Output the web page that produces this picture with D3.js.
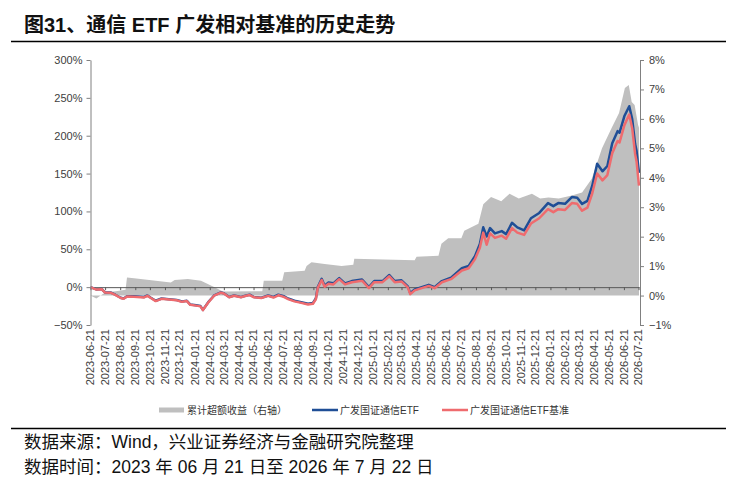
<!DOCTYPE html>
<html>
<head>
<meta charset="utf-8">
<script src="https://cdn.jsdelivr.net/npm/d3@7/dist/d3.min.js"></script>
<style>
    body { margin: 0; background: #fff; }
    svg { display: block; }
    text { font-family: "Liberation Sans", "Noto Sans CJK SC", sans-serif; }
</style>
</head>
<body>
<svg id="chart"></svg>
<script>
// ETF and benchmark cumulative returns (%), left axis
const lineDates = [
    "2023-06-21", "2023-07-03", "2023-07-14", "2023-07-21", "2023-08-01", "2023-08-11", "2023-08-22", "2023-08-28",
    "2023-09-04", "2023-09-18", "2023-10-09", "2023-10-16", "2023-10-23", "2023-11-02", "2023-11-14", "2023-11-29",
    "2023-12-15", "2023-12-26", "2024-01-05", "2024-01-12", "2024-01-24", "2024-02-02", "2024-02-07", "2024-02-19",
    "2024-03-01", "2024-03-15", "2024-03-21", "2024-04-01", "2024-04-11", "2024-04-25", "2024-05-06", "2024-05-13",
    "2024-05-22", "2024-06-06", "2024-06-20", "2024-07-01", "2024-07-11", "2024-07-22", "2024-07-31", "2024-08-13",
    "2024-08-27", "2024-09-10", "2024-09-20", "2024-09-26", "2024-09-30", "2024-10-08", "2024-10-14", "2024-10-22",
    "2024-11-01", "2024-11-13", "2024-11-25", "2024-12-09", "2024-12-30", "2025-01-13", "2025-01-24", "2025-02-10",
    "2025-02-24", "2025-03-07", "2025-03-21", "2025-04-03", "2025-04-08", "2025-04-17", "2025-05-16", "2025-05-28",
    "2025-06-12", "2025-07-02", "2025-07-23", "2025-08-06", "2025-08-19", "2025-08-29", "2025-09-05", "2025-09-12",
    "2025-09-19", "2025-09-29", "2025-10-13", "2025-10-22", "2025-11-03", "2025-11-14", "2025-11-28", "2025-12-12",
    "2025-12-29", "2026-01-16", "2026-01-27", "2026-02-06", "2026-02-20", "2026-03-06", "2026-03-17", "2026-03-27",
    "2026-04-07", "2026-04-17", "2026-04-27", "2026-05-08", "2026-05-18", "2026-05-28", "2026-06-08", "2026-06-12",
    "2026-06-22", "2026-07-02", "2026-07-08", "2026-07-14", "2026-07-17", "2026-07-22"
];
const etfValues = [
    0, -3, -2.5, -7, -7, -10, -14, -15,
    -12, -12, -13, -11, -14, -18, -15, -16,
    -17, -19, -18, -23, -24, -25, -30, -19,
    -11, -7, -8, -13, -11, -13, -11, -10,
    -13, -14, -11, -13, -10, -12, -15, -18,
    -20, -22, -21, -15, 0, 11, 2, 6,
    5, 12, 5, 8, 10, 0, 8, 8,
    16, 8, 9, 1, -8, -3, 3, 0,
    8, 13, 25, 28, 41, 57, 79, 67,
    78, 71, 74, 70, 85, 79, 75, 91,
    98, 111, 107, 111, 110, 119, 118, 110,
    114, 134, 163, 153, 160, 190, 206, 204,
    226, 239, 222, 189, 180, 151
];
const benchValues = [
    0, -3.2, -2.8, -7.2, -7.3, -10.3, -14.3, -15.3,
    -12.5, -12.6, -13.6, -11.5, -14.4, -18.4, -15.4, -16.4,
    -17.4, -19.4, -18.4, -23.4, -24.4, -25.4, -30.3, -19.4,
    -11.3, -7.3, -8.3, -13.4, -11.4, -13.4, -11.4, -10.4,
    -13.4, -14.4, -11.6, -13.7, -10.8, -12.8, -15.8, -18.8,
    -20.8, -22.9, -22, -16, -1, 9.5, 0.5, 4.6,
    3.6, 10.5, 3.6, 6.5, 8.5, -1.3, 6.6, 6.6,
    14.4, 6.6, 7.6, -0.4, -9.2, -4.3, 1.6, -1.4,
    6.5, 11, 22, 25, 37, 52, 72, 56,
    71, 65, 68, 64, 78, 72, 69, 84,
    91, 103, 99, 103, 102, 111, 110, 101,
    105, 124, 150, 141, 148, 177, 193, 191,
    214, 228, 210, 176, 166, 134
];

// Cumulative excess return (%), right axis
const excessDates = [
    "2023-06-21", "2023-07-03", "2023-07-21", "2023-08-12", "2023-09-01", "2023-09-04", "2023-09-23", "2023-11-02",
    "2023-12-03", "2023-12-11", "2024-01-07", "2024-02-03", "2024-02-17", "2024-03-03", "2024-03-19", "2024-06-08",
    "2024-06-11", "2024-07-19", "2024-07-23", "2024-09-03", "2024-09-07", "2024-09-17", "2024-10-14", "2024-11-18",
    "2024-12-12", "2024-12-14", "2025-04-17", "2025-04-21", "2025-06-05", "2025-06-11", "2025-06-25", "2025-07-22",
    "2025-07-28", "2025-08-26", "2025-09-05", "2025-09-21", "2025-10-12", "2025-10-29", "2025-11-17", "2025-12-14",
    "2025-12-31", "2026-01-17", "2026-02-07", "2026-03-06", "2026-03-27", "2026-04-16", "2026-05-07", "2026-05-27",
    "2026-06-11", "2026-06-23", "2026-07-01", "2026-07-07", "2026-07-13", "2026-07-20", "2026-07-22"
];
const excessValues = [
    0, -0.1, 0.1, 0.15, 0.2, 0.61, 0.58, 0.5,
    0.44, 0.53, 0.56, 0.5, 0.39, 0.27, 0.14, 0.15,
    0.5, 0.5, 0.79, 0.84, 1.0, 1.13, 1.07, 1.0,
    1.05, 1.25, 1.2, 1.32, 1.35, 1.76, 1.95, 1.95,
    2.2, 2.44, 3.1, 3.35, 3.2, 3.46, 3.3, 3.46,
    3.3, 3.33, 3.3, 3.4, 3.5, 3.97, 5.0, 5.7,
    6.2, 7.05, 7.15, 6.57, 6.47, 5.8, 5.7
];

const leftTicks = [-50, 0, 50, 100, 150, 200, 250, 300];
const rightTicks = [-1, 0, 1, 2, 3, 4, 5, 6, 7, 8];
const xTickLabels = [
    "2023-06-21", "2023-07-21", "2023-08-21", "2023-09-21", "2023-10-21", "2023-11-21", "2023-12-21",
    "2024-01-21", "2024-02-21", "2024-03-21", "2024-04-21", "2024-05-21", "2024-06-21", "2024-07-21",
    "2024-08-21", "2024-09-21", "2024-10-21", "2024-11-21", "2024-12-21", "2025-01-21", "2025-02-21",
    "2025-03-21", "2025-04-21", "2025-05-21", "2025-06-21", "2025-07-21", "2025-08-21", "2025-09-21",
    "2025-10-21", "2025-11-21", "2025-12-21", "2026-01-21", "2026-02-21", "2026-03-21", "2026-04-21",
    "2026-05-21", "2026-06-21", "2026-07-21"
];
const legendLabels = ["累计超额收益（右轴）", "广发国证通信ETF", "广发国证通信ETF基准"];

// Chart dimensions
const svgWidth = 737;
const svgHeight = 485;
const plot = { left: 90.5, right: 640, top: 60, bottom: 325 };

const colors = { excess: "#bfbfbf", etf: "#1f4e96", bench: "#ef6b6e", axis: "#808080", text: "#404040" };

const parse = d3.timeParse("%Y-%m-%d");

const svg = d3.select("#chart")
    .attr("width", svgWidth)
    .attr("height", svgHeight);

// Scales
const x = d3.scaleTime()
    .domain([parse("2023-06-21"), parse("2026-07-22")])
    .range([plot.left, plot.right - 1]);

const yLeft = d3.scaleLinear()
    .domain([-50, 300])
    .range([plot.bottom, plot.top]);

const yRight = d3.scaleLinear()
    .domain([-1, 8])
    .range([plot.bottom, plot.top]);

// Title
svg.append("text")
    .attr("x", 24)
    .attr("y", 32)
    .attr("font-size", 20)
    .attr("font-weight", "bold")
    .attr("fill", "#111")
    .text("图31、通信 ETF 广发相对基准的历史走势");

svg.append("line")
    .attr("x1", 11).attr("x2", 726)
    .attr("y1", 41.5).attr("y2", 41.5)
    .attr("stroke", "#000")
    .attr("stroke-width", 1.3);

// Excess return area (right axis)
const excessData = excessDates.map((d, i) => ({ date: parse(d), value: excessValues[i] }));
const area = d3.area()
    .x(d => x(d.date))
    .y0(yRight(0))
    .y1(d => yRight(d.value));

svg.append("path")
    .datum(excessData)
    .attr("fill", colors.excess)
    .attr("d", area);

// X axis along the 0% line of the left axis
svg.append("g")
    .attr("class", "axis x-axis")
    .attr("transform", `translate(0,${yLeft(0)})`)
    .call(d3.axisBottom(x)
        .tickValues(xTickLabels.map(parse))
        .tickSize(3)
        .tickSizeOuter(0)
        .tickFormat(""))
    .call(g => g.select(".domain").attr("stroke", "#595959"))
    .call(g => g.selectAll(".tick line").attr("stroke", "#595959"));

// Rotated date labels under the plot
svg.append("g")
    .attr("class", "x-labels")
    .selectAll("text")
    .data(xTickLabels)
    .join("text")
    .attr("transform", d => `translate(${x(parse(d))},329) rotate(-90)`)
    .attr("dy", "0.35em")
    .attr("text-anchor", "end")
    .attr("font-size", 11)
    .attr("fill", colors.text)
    .text(d => d);

// Lines
const lineData = lineDates.map((d, i) => ({ date: parse(d), etf: etfValues[i], bench: benchValues[i] }));

svg.append("path")
    .datum(lineData)
    .attr("fill", "none")
    .attr("stroke", colors.etf)
    .attr("stroke-width", 2.5)
    .attr("stroke-linejoin", "round")
    .attr("d", d3.line().x(d => x(d.date)).y(d => yLeft(d.etf)));

svg.append("path")
    .datum(lineData)
    .attr("fill", "none")
    .attr("stroke", colors.bench)
    .attr("stroke-width", 2.5)
    .attr("stroke-linejoin", "round")
    .attr("d", d3.line().x(d => x(d.date)).y(d => yLeft(d.bench)));

// Percentage formatter with a true minus sign
const pct = d => (d < 0 ? "\u2212" : "") + Math.abs(d) + "%";

// Left axis
svg.append("g")
    .attr("class", "axis y-left")
    .attr("transform", `translate(${plot.left},0)`)
    .call(d3.axisLeft(yLeft)
        .tickValues(leftTicks)
        .tickSize(4)
        .tickSizeOuter(0)
        .tickFormat(pct))
    .call(g => g.select(".domain").attr("stroke", colors.axis))
    .call(g => g.selectAll(".tick line").attr("stroke", colors.axis))
    .call(g => g.selectAll(".tick text")
        .attr("font-size", 11)
        .attr("font-family", null)
        .attr("fill", colors.text)
        .attr("x", -8));

// Right axis
svg.append("g")
    .attr("class", "axis y-right")
    .attr("transform", `translate(${plot.right},0)`)
    .call(d3.axisRight(yRight)
        .tickValues(rightTicks)
        .tickSize(4)
        .tickSizeOuter(0)
        .tickFormat(pct))
    .call(g => g.select(".domain").attr("stroke", colors.axis))
    .call(g => g.selectAll(".tick line").attr("stroke", colors.axis))
    .call(g => g.selectAll(".tick text")
        .attr("font-size", 11)
        .attr("font-family", null)
        .attr("fill", colors.text)
        .attr("x", 9));

// Legend
const legend = svg.append("g").attr("class", "legend");
const legendItems = [
    { x: 159, color: colors.excess, type: "rect" },
    { x: 312, color: colors.etf, type: "line" },
    { x: 442, color: colors.bench, type: "line" }
];
legendItems.forEach((item, i) => {
    if (item.type === "rect") {
        legend.append("rect")
            .attr("x", item.x).attr("y", 407.5)
            .attr("width", 25).attr("height", 5)
            .attr("fill", item.color);
    } else {
        legend.append("line")
            .attr("x1", item.x).attr("x2", item.x + 26)
            .attr("y1", 410).attr("y2", 410)
            .attr("stroke", item.color)
            .attr("stroke-width", 2.5);
    }
    legend.append("text")
        .attr("x", item.x + 28)
        .attr("y", 410)
        .attr("dy", "0.35em")
        .attr("font-size", 10)
        .attr("fill", "#333")
        .text(legendLabels[i]);
});

// Footer
svg.append("line")
    .attr("x1", 11).attr("x2", 726)
    .attr("y1", 428.5).attr("y2", 428.5)
    .attr("stroke", "#000")
    .attr("stroke-width", 1.3);

svg.append("text")
    .attr("x", 24).attr("y", 448)
    .attr("font-size", 17.5)
    .attr("fill", "#111")
    .text("数据来源：Wind，兴业证券经济与金融研究院整理");

svg.append("text")
    .attr("x", 24).attr("y", 473)
    .attr("font-size", 17.5)
    .attr("fill", "#111")
    .text("数据时间：2023 年 06 月 21 日至 2026 年 7 月 22 日");
</script>
</body>
</html>
